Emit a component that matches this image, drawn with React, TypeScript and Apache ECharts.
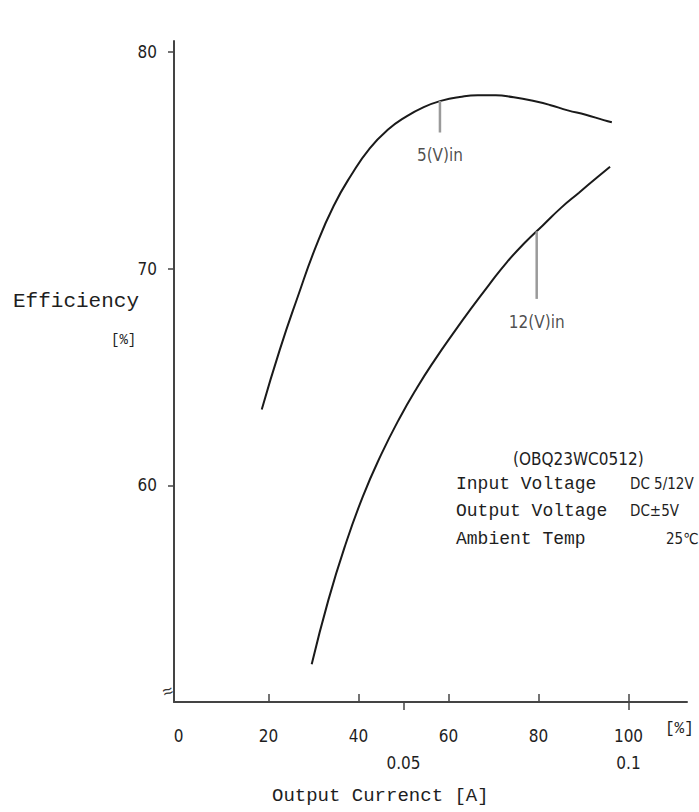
import React, { useEffect, useRef } from "react";
import * as echarts from "echarts";

// Output current [%] vs efficiency [%]
const curve5V: [number, number][] = [
  [18.5, 63.5], [22.5, 66.25], [26.5, 68.7], [30.5, 71.0], [34.5, 72.9],
  [38.5, 74.35], [42.5, 75.55], [46.5, 76.4], [50.5, 77.0], [54.5, 77.45],
  [58.5, 77.75], [62.5, 77.92], [66.5, 78.0], [70.5, 78.0], [74.5, 77.9],
  [78.5, 77.75], [82.5, 77.55], [86.5, 77.3], [90.5, 77.1], [94.5, 76.85],
  [96.3, 76.75],
];
const curve12V: [number, number][] = [
  [29.6, 51.74], [33.3, 54.7], [37.0, 57.2], [41.0, 59.5], [45.0, 61.4],
  [49.0, 63.05], [53.0, 64.5], [57.0, 65.8], [61.0, 67.0], [65.0, 68.15],
  [69.0, 69.25], [73.0, 70.3], [77.0, 71.2], [81.0, 72.0], [85.0, 72.8],
  [89.0, 73.5], [93.0, 74.2], [95.9, 74.7],
];
const leader5V: [number, number][] = [[58.1, 77.73], [58.1, 76.28]];
const leader12V: [number, number][] = [[79.6, 71.72], [79.6, 68.6]];
const label5VPos: [number, number] = [58.1, 75.26];
const label12VPos: [number, number] = [79.6, 67.54];

const xTickValues = [20, 40, 60, 80, 100];
const xLabelValues = [0, 20, 40, 60, 80, 100];
const ampTickValues = [50, 100];
const ampLabels = ["0.05", "0.1"];
const yTickValues = [60, 70, 80];

const NARROW = "'Liberation Sans Narrow', 'DejaVu Sans Condensed', 'Liberation Sans', sans-serif";
const MONO = "'Liberation Mono', 'DejaVu Sans Mono', monospace";
const TXT = "#1e1e1e";
const AX = "#444";

export default function App() {
  const ref = useRef<HTMLDivElement>(null);
  useEffect(() => {
    if (!ref.current) return;
    const chart = echarts.init(ref.current, undefined, { renderer: "svg" });
    const option: any = {
      animation: false,
      backgroundColor: "#fff",
      grid: { left: 174, right: 12, top: 41, bottom: 110 },
      xAxis: [
        {
          type: "value", min: -1, max: 113, position: "bottom",
          axisLine: { show: true, onZero: false, lineStyle: { color: AX, width: 2 } },
          axisTick: { show: true, inside: true, length: 8, customValues: xTickValues, lineStyle: { color: AX, width: 1.5 } },
          axisLabel: { customValues: xLabelValues, margin: 25, fontSize: 17, fontFamily: NARROW, color: TXT },
          splitLine: { show: false },
        },
        {
          type: "value", min: -1, max: 113, position: "bottom",
          axisLine: { show: false, onZero: false },
          axisTick: { show: true, inside: false, length: 8, customValues: ampTickValues, lineStyle: { color: AX, width: 1.5 } },
          axisLabel: {
            customValues: ampTickValues, margin: 52, fontSize: 17, fontFamily: NARROW, color: TXT,
            formatter: (v: number) => ampLabels[ampTickValues.indexOf(v)] ?? "",
          },
          splitLine: { show: false },
        },
      ],
      yAxis: {
        type: "value", min: 50, max: 80.5,
        axisLine: { show: true, onZero: false, lineStyle: { color: AX, width: 2 } },
        axisTick: { show: true, inside: false, length: 6, customValues: yTickValues, lineStyle: { color: AX, width: 1.5 } },
        axisLabel: { customValues: yTickValues, margin: 17, fontSize: 17, fontFamily: NARROW, color: TXT },
        splitLine: { show: false },
      },
      series: [
        { type: "line", data: curve5V, smooth: 0.5, symbol: "none", lineStyle: { color: "#1a1a1a", width: 2 }, silent: true },
        { type: "line", data: curve12V, smooth: 0.5, symbol: "none", lineStyle: { color: "#1a1a1a", width: 2 }, silent: true },
        { type: "line", data: leader5V, symbol: "none", lineStyle: { color: "#9a9a9a", width: 2.5 }, silent: true },
        { type: "line", data: leader12V, symbol: "none", lineStyle: { color: "#9a9a9a", width: 2.5 }, silent: true },
        {
          type: "scatter", data: [label5VPos], symbolSize: 0, silent: true,
          label: { show: true, position: "inside", formatter: "5(V)in", fontSize: 17, fontFamily: NARROW, color: TXT },
        },
        {
          type: "scatter", data: [label12VPos], symbolSize: 0, silent: true,
          label: { show: true, position: "inside", formatter: "12(V)in", fontSize: 17, fontFamily: NARROW, color: TXT },
        },
      ],
      graphic: [
        { type: "text", left: 13, top: 291, style: { text: "Efficiency", font: `21px ${MONO}`, fill: TXT } },
        { type: "text", left: 111, top: 333, style: { text: "[%]", font: `14px ${MONO}`, fill: TXT } },
        { type: "text", left: 272, top: 786, style: { text: "Output Currenct [A]", font: `19px ${MONO}`, fill: TXT } },
        { type: "text", left: 665, top: 721, style: { text: "[%]", font: `16px ${MONO}`, fill: TXT } },
        { type: "text", left: 160, top: 682, style: { text: "≈", font: `18px ${MONO}`, fill: "#333" }, rotation: 0.35 },
        { type: "text", left: 513, top: 450, style: { text: "(OBQ23WC0512)", font: `17px ${NARROW}`, fill: TXT } },
        { type: "text", left: 456, top: 475, style: { text: "Input Voltage", font: `18px ${MONO}`, fill: TXT } },
        { type: "text", left: 630, top: 476, style: { text: "DC 5/12V", font: `15px ${NARROW}`, fill: TXT } },
        { type: "text", left: 456, top: 502, style: { text: "Output Voltage", font: `18px ${MONO}`, fill: TXT } },
        { type: "text", left: 630, top: 503, style: { text: "DC±5V", font: `15px ${NARROW}`, fill: TXT } },
        { type: "text", left: 456, top: 530, style: { text: "Ambient Temp", font: `18px ${MONO}`, fill: TXT } },
        { type: "text", left: 666, top: 531, style: { text: "25℃", font: `15px ${NARROW}`, fill: TXT } },
      ],
    };
    chart.setOption(option);
    return () => chart.dispose();
  }, []);
  return <div ref={ref} style={{ position: "fixed", left: 0, top: 0, width: 699, height: 812 }} />;
}
